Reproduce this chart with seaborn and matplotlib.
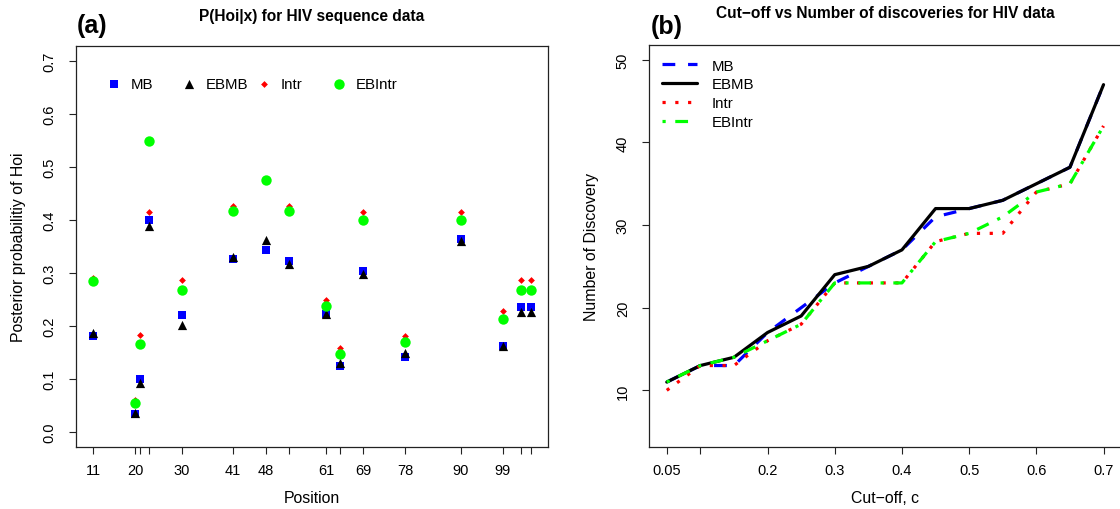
import matplotlib
matplotlib.use("Agg")
import matplotlib.pyplot as plt
from matplotlib.legend import Legend
import seaborn as sns

# ---- panel (a): posterior probabilities per sequence position ----
positions = [11, 20, 21, 23, 30, 41, 48, 53, 61, 64, 69, 78, 90, 99, 103, 105]
labelled_positions = [11, 20, 30, 41, 48, 61, 69, 78, 90, 99]
mb = [0.180, 0.033, 0.099, 0.400, 0.220, 0.326, 0.343, 0.322,
      0.221, 0.124, 0.303, 0.141, 0.363, 0.161, 0.235, 0.235]
ebmb = [0.187, 0.035, 0.091, 0.388, 0.201, 0.330, 0.361, 0.316,
        0.222, 0.130, 0.298, 0.148, 0.360, 0.161, 0.225, 0.225]
intr = [0.289, 0.060, 0.183, 0.415, 0.287, 0.425, 0.475, 0.425,
        0.249, 0.158, 0.414, 0.180, 0.414, 0.228, 0.287, 0.287]
ebintr = [0.284, 0.054, 0.165, 0.548, 0.267, 0.416, 0.475, 0.416,
          0.237, 0.146, 0.400, 0.169, 0.400, 0.213, 0.267, 0.267]
prob_ticks = [0.0, 0.1, 0.2, 0.3, 0.4, 0.5, 0.6, 0.7]

# ---- panel (b): number of discoveries per cut-off ----
cutoff = [0.05, 0.10, 0.15, 0.20, 0.25, 0.30, 0.35,
          0.40, 0.45, 0.50, 0.55, 0.60, 0.65, 0.70]
mb_n = [11, 13, 13, 17, 20, 23, 25, 27, 31, 32, 33, 35, 37, 47]
ebmb_n = [11, 13, 14, 17, 19, 24, 25, 27, 32, 32, 33, 35, 37, 47]
intr_n = [10, 13, 13, 16, 18, 23, 23, 23, 28, 29, 29, 34, 35, 42]
ebintr_n = [11, 13, 14, 16, 18, 23, 23, 23, 28, 29, 31, 34, 35, 42]
cutoff_ticks = [0.05, 0.1, 0.2, 0.3, 0.4, 0.5, 0.6, 0.7]
cutoff_labels = ["0.05", "", "0.2", "0.3", "0.4", "0.5", "0.6", "0.7"]
count_ticks = [10, 20, 30, 40, 50]

names = ["MB", "EBMB", "Intr", "EBIntr"]
colors = ["#0000FF", "#000000", "#FF0000", "#00FF00"]

sns.set_theme(style="ticks")
plt.rcParams["font.family"] = ["Liberation Sans", "DejaVu Sans"]
plt.rcParams["text.color"] = "black"
plt.rcParams["axes.labelcolor"] = "black"
plt.rcParams["xtick.color"] = "#222222"
plt.rcParams["ytick.color"] = "#222222"
plt.rcParams["xtick.labelcolor"] = "black"
plt.rcParams["ytick.labelcolor"] = "black"

W, H = 1120, 510
fig = plt.figure(figsize=(W / 100, H / 100), dpi=100)
fig.patch.set_facecolor("white")


def axes_px(left, top, right, bottom):
    return fig.add_axes([left / W, 1 - bottom / H, (right - left) / W, (bottom - top) / H])


ax1 = axes_px(76, 46.7, 548, 447.5)
ax2 = axes_px(649.3, 46, 1121, 447.5)

TICK_FS = 10.5
LAB_FS = 11.4
TITLE_FS = 11.2

for ax in (ax1, ax2):
    ax.set_facecolor("white")
    for sp in ax.spines.values():
        sp.set_visible(True)
        sp.set_color("#222222")
        sp.set_linewidth(0.9)
    ax.tick_params(direction="out", length=5, width=0.8, labelsize=TICK_FS)
    ax.tick_params(axis="x", pad=7)
    ax.tick_params(axis="y", pad=9)

# ---- panel (a) ----
markers = ["s", "^", "D", "o"]
sizes = [34, 44, 12, 56]
for vals, name, m, c, s in zip([mb, ebmb, intr, ebintr], names, markers, colors, sizes):
    sns.scatterplot(x=positions, y=vals, marker=m, color=c, s=s, linewidth=0,
                    ax=ax1, label=name, legend=False, zorder=3)

ax1.set_xlim(7.24, 108.76)
ax1.set_ylim(-0.028, 0.728)
ax1.set_xticks(positions)
ax1.set_xticklabels([str(p) if p in labelled_positions else "" for p in positions])
ax1.set_yticks(prob_ticks)
ax1.set_yticklabels([f"{t:.1f}" for t in prob_ticks], rotation=90, va="center")
ax1.set_xlabel("Position", fontsize=LAB_FS)
ax1.set_ylabel("Posterior probabilitiy of Hoi", fontsize=LAB_FS)
ax1.xaxis.set_label_coords(0.5, -0.128)
ax1.yaxis.set_label_coords(-0.122, 0.5)
ax1.xaxis.label.set_va("center")
ax1.yaxis.label.set_va("center")
ax1.set_title("P(Hoi|x) for HIV sequence data", fontsize=TITLE_FS, fontweight="bold",
              y=1.064, pad=0)

# one legend entry per column, spaced evenly across the top
handles = ax1.collections[:4]
entry_centres = [113.3, 188.3, 263.3, 338.3]
hl = 1.0
for h, name, xc in zip(handles, names, entry_centres):
    half = hl * TICK_FS * 100 / 72 / 2
    lg = Legend(ax1, [h], [name], loc="center left",
                bbox_to_anchor=((xc - half) / W, 1 - 85 / H),
                bbox_transform=fig.transFigure, frameon=False, borderpad=0,
                borderaxespad=0, handlelength=hl, handletextpad=0.65,
                fontsize=TICK_FS + 0.3, scatterpoints=1)
    ax1.add_artist(lg)

# ---- panel (b) ----
dash_styles = [(4, 4), None, (1, 3), (1, 3, 4, 3)]
lines = []
for vals, name, c, d in zip([mb_n, ebmb_n, intr_n, ebintr_n], names, colors, dash_styles):
    kw = {} if d is None else {"dashes": d}
    sns.lineplot(x=cutoff, y=vals, color=c, linewidth=2.3, ax=ax2, label=name,
                 legend=False, **kw)
    lines.append(ax2.lines[-1])

ax2.set_xlim(0.024, 0.726)
ax2.set_ylim(3.2, 51.8)
ax2.set_xticks(cutoff_ticks)
ax2.set_xticklabels(cutoff_labels)
ax2.set_yticks(count_ticks)
ax2.set_yticklabels([str(t) for t in count_ticks], rotation=90, va="center")
ax2.set_xlabel("Cut\u2212off, c", fontsize=LAB_FS)
ax2.set_ylabel("Number of Discovery", fontsize=LAB_FS)
ax2.xaxis.set_label_coords(0.5, -0.128)
ax2.yaxis.set_label_coords(-0.122, 0.5)
ax2.xaxis.label.set_va("center")
ax2.yaxis.label.set_va("center")
ax2.set_title("Cut\u2212off vs Number of discoveries for HIV data", fontsize=TITLE_FS,
              fontweight="bold", y=1.069, pad=0)
ax2.legend(lines, names, loc="upper left", bbox_to_anchor=(662 / W, 1 - 59.5 / H),
           bbox_transform=fig.transFigure, frameon=False, borderpad=0,
           borderaxespad=0, handlelength=2.3, handletextpad=1.0,
           labelspacing=0.32, fontsize=TICK_FS + 0.3)

# panel tags
fig.text(77 / W, 1 - 33 / H, "(a)", fontsize=18, fontweight="bold", va="baseline")
fig.text(651 / W, 1 - 34 / H, "(b)", fontsize=18, fontweight="bold", va="baseline")

fig.savefig("out.png", dpi=100, facecolor="white")
